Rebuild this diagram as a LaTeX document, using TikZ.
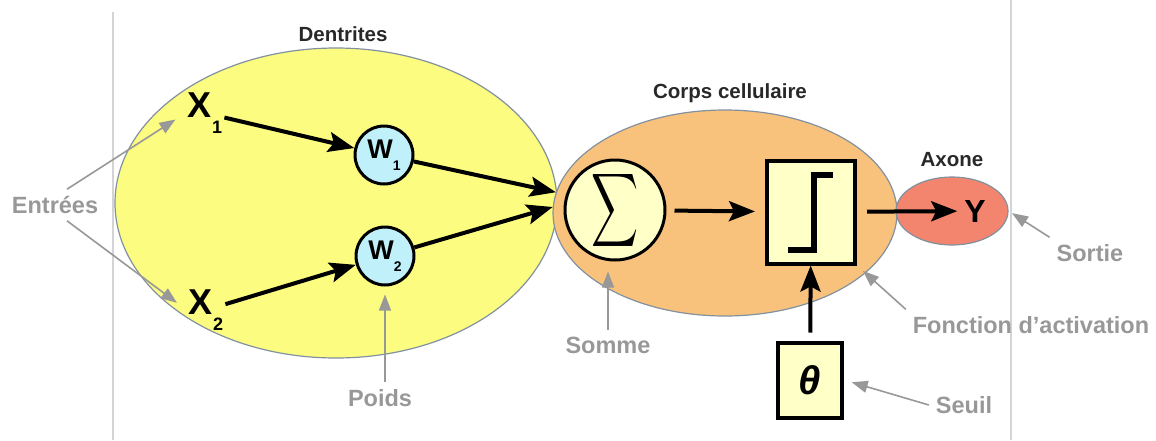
\documentclass[tikz,border=0pt]{standalone}
\usepackage{fontspec}
\setmainfont{Liberation Sans}
\usetikzlibrary{shapes.geometric,arrows.meta}
\definecolor{dendriteyellow}{RGB}{252,252,128}
\definecolor{somaorange}{RGB}{249,194,124}
\definecolor{axonred}{RGB}{243,133,110}
\definecolor{weightblue}{RGB}{192,240,250}
\definecolor{unityellow}{RGB}{255,255,200}
\definecolor{rimgray}{RGB}{130,145,160}
\definecolor{hintgray}{RGB}{152,152,152}
\definecolor{titlegray}{RGB}{40,40,40}
\definecolor{dividergray}{RGB}{212,212,212}

\begin{document}
\begin{tikzpicture}[x=0.5pt,y=-0.5pt]
                        \tikzstyle{cell}=[ellipse,draw=rimgray,line width=0.6pt]
                        \tikzstyle{title}=[text=titlegray,font=\fontsize{10.25}{12}\selectfont\bfseries]
                        \tikzstyle{note}=[text=hintgray,font=\fontsize{11.75}{14}\selectfont\bfseries]
                        \tikzstyle{input}=[inner sep=1pt,font=\fontsize{18}{20}\selectfont\bfseries]
                        \tikzstyle{weight}=[circle,draw,line width=1.5pt,fill=weightblue,minimum size=29pt,inner sep=0pt,font=\fontsize{13.5}{14}\selectfont\bfseries]
                        \tikzstyle{unitbox}=[rectangle,draw,line width=2pt,fill=unityellow,inner sep=0pt]
                        \tikzstyle{flow}=[line width=2pt,-{Stealth[length=13pt,width=10pt,inset=2.5pt]}]
                        \tikzstyle{hint}=[draw=hintgray,line width=0.8pt,-{Triangle[length=8pt,width=6pt]}]
                        \tikzstyle{divider}=[draw=dividergray,line width=1pt]
                        \useasboundingbox (0,0) rectangle (1156,440);
                        \draw[divider] (113,12) -- (113,440);
                        \draw[divider] (1011,0) -- (1011,440);
                        \node[cell,fill=dendriteyellow,minimum width=221pt,minimum height=155pt] (dentrites) at (336,203) {};
                        \node[cell,fill=somaorange,minimum width=172pt,minimum height=103pt] (corps) at (725,213) {};
                        \node[cell,fill=axonred,minimum width=56pt,minimum height=34pt] (axone) at (952,211) {};
                        \node[title] (tdentrites) at (343,34) {Dentrites};
                        \node[title] (tcorps) at (730,93) {Corps cellulaire};
                        \node[title] (taxone) at (952,160) {Axone};
                        \node[input] (x1) at (205,113) {X\raisebox{-8pt}{\fontsize{9}{9}\selectfont 1}};
                        \node[input] (x2) at (206,310) {X\raisebox{-8pt}{\fontsize{9}{9}\selectfont 2}};
                        \node[weight] (w1) at (384,155) {W\raisebox{-6pt}{\fontsize{7}{7}\selectfont 1}};
                        \node[weight] (w2) at (385,256) {W\raisebox{-6pt}{\fontsize{7}{7}\selectfont 2}};
                        \node[circle,draw,line width=1.5pt,fill=unityellow,minimum size=50pt,inner sep=0pt] (sigma) at (615,210)
                            {\scalebox{1.63}[2.57]{$\displaystyle\sum$}};
                        \node[unitbox,minimum width=44pt,minimum height=51.5pt] (step) at (811,212) {};
                        \draw[line width=2.8pt] ([shift={(-23,38)}]step.center) -- ([shift={(3,38)}]step.center)
                            -- ([shift={(3,-37)}]step.center) -- ([shift={(22,-37)}]step.center);
                        \node[unitbox,minimum width=32pt,minimum height=37.5pt,font=\fontsize{20}{20}\selectfont\bfseries\itshape] (theta) at (810,380) {θ};
                        \node[font=\fontsize{16}{16}\selectfont\bfseries] (y) at (975,211) {Y};
                        \draw[flow] (x1) -- (w1);
                        \draw[flow] (x2) -- (w2);
                        \draw[flow] (w1) -- (corps.173);
                        \draw[flow] (w2) -- (corps.178);
                        \draw[flow,shorten <=4pt,shorten >=5pt] (sigma) -- (step);
                        \draw[flow,shorten <=4pt] (theta) -- (step);
                        \draw[flow,shorten <=5pt] (step) -- (y);
                        \node[note] (entrees) at (55,205) {Entrées};
                        \node[note] (poids) at (380,398) {Poids};
                        \node[note] (somme) at (608,345) {Somme};
                        \node[note] (fonction) at (1031,325) {Fonction d’activation};
                        \node[note] (seuil) at (964,405) {Seuil};
                        \node[note] (sortie) at (1090,253) {Sortie};
                        \draw[hint,shorten >=6pt] ([xshift=6pt]entrees.north) -- (x1.west);
                        \draw[hint,shorten >=6pt] ([xshift=6pt]entrees.south) -- (x2.west);
                        \draw[hint,shorten >=4pt] (poids.north -| w2) -- (w2);
                        \draw[hint,shorten >=5pt] (somme.north) -- (somme.north |- sigma.south);
                        \draw[hint,shorten >=4pt] (fonction.north west) -- (step.south east);
                        \draw[hint,shorten >=4pt] (seuil.west) -- (theta.east);
                        \draw[hint,shorten >=2pt] (sortie.north west) -- (axone.east);
                    \end{tikzpicture}
\end{document}
